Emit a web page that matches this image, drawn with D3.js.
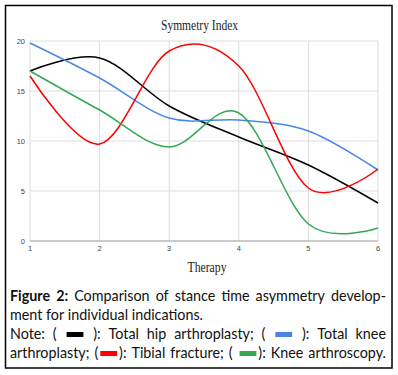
<!DOCTYPE html>
<html>
<head>
<meta charset="utf-8">
<script src="https://cdn.jsdelivr.net/npm/d3@7"></script>
<style>
  body { margin: 0; background: #fff; }
  svg { display: block; }
</style>
</head>
<body>
<div id="chart"></div>
<script>
// therapy sessions and symmetry index per indication
const therapy = [1, 2, 3, 4, 5, 6];
const hipValues = [17.0, 18.3, 13.5, 10.4, 7.6, 3.8];
const kneeValues = [19.8, 16.3, 12.3, 12.1, 11.0, 7.1];
const tibialValues = [16.5, 9.7, 19.0, 17.5, 5.3, 7.2];
const arthroscopyValues = [17.0, 13.1, 9.4, 12.8, 1.7, 1.3];
const yTicks = [0, 5, 10, 15, 20];

const seriesColors = ["#000000", "#4a86e8", "#ff0000", "#34a853"];
const series = [hipValues, kneeValues, tibialValues, arthroscopyValues];

const W = 398, H = 375;
const margin = { top: 41, right: 20, bottom: 134, left: 30 };

const svg = d3.select("#chart").append("svg")
  .attr("width", W)
  .attr("height", H);

// figure frame
svg.append("rect")
  .attr("x", 5.5).attr("y", 5.5)
  .attr("width", 386.5).attr("height", 362.5)
  .attr("fill", "none")
  .attr("stroke", "#000")
  .attr("stroke-width", 1.5);

const x = d3.scaleLinear().domain([1, 6]).range([margin.left, W - margin.right]);
const y = d3.scaleLinear().domain([0, 20]).range([H - margin.bottom, margin.top]);

// grid
svg.append("g")
  .selectAll("line")
  .data(therapy)
  .join("line")
  .attr("x1", d => x(d)).attr("x2", d => x(d))
  .attr("y1", y(20)).attr("y2", y(0))
  .attr("stroke", "#dddddd")
  .attr("stroke-width", 1);

svg.append("g")
  .selectAll("line")
  .data(yTicks)
  .join("line")
  .attr("x1", x(1)).attr("x2", x(6))
  .attr("y1", d => y(d)).attr("y2", d => y(d))
  .attr("stroke", d => d === 0 ? "#b8b8b8" : "#dddddd")
  .attr("stroke-width", d => d === 0 ? 1.5 : 1);

// tick labels
svg.append("g")
  .selectAll("text")
  .data(yTicks)
  .join("text")
  .attr("x", x(1) - 5)
  .attr("y", d => y(d) + 2.5)
  .attr("text-anchor", "end")
  .attr("font-family", "Liberation Sans, Arial, sans-serif")
  .attr("font-size", 7.5)
  .attr("fill", "#444")
  .text(d => d);

svg.append("g")
  .selectAll("text")
  .data(therapy)
  .join("text")
  .attr("x", d => x(d))
  .attr("y", y(0) + 10)
  .attr("text-anchor", "middle")
  .attr("font-family", "Liberation Sans, Arial, sans-serif")
  .attr("font-size", 7.5)
  .attr("fill", "#444")
  .text(d => d);

// lines
const line = d3.line()
  .x((d, i) => x(therapy[i]))
  .y(d => y(d))
  .curve(d3.curveCatmullRom.alpha(0));

svg.append("g")
  .selectAll("path")
  .data(series)
  .join("path")
  .attr("d", d => line(d))
  .attr("fill", "none")
  .attr("stroke", (d, i) => seriesColors[i])
  .attr("stroke-width", 1.5);

// titles
svg.append("text")
  .attr("x", 199.5).attr("y", 30)
  .attr("text-anchor", "middle")
  .attr("font-family", "Liberation Serif, Times New Roman, serif")
  .attr("font-size", 14)
  .attr("textLength", 77)
  .attr("lengthAdjust", "spacingAndGlyphs")
  .attr("fill", "#222")
  .text("Symmetry Index");

svg.append("text")
  .attr("x", 207).attr("y", 272)
  .attr("text-anchor", "middle")
  .attr("font-family", "Liberation Serif, Times New Roman, serif")
  .attr("font-size", 14)
  .attr("textLength", 39)
  .attr("lengthAdjust", "spacingAndGlyphs")
  .attr("fill", "#222")
  .text("Therapy");

// caption, laid out line by line and justified
const capFont = "Lato, sans-serif";
const capSize = 14.5;
const capLeft = 10, capRight = 386;

// each line: groups separated by stretchable spaces; a group is a list of pieces
const captionLines = [
  { y: 301, justify: true, groups: [
    [{ t: "Figure", b: true }], [{ t: "2:", b: true }], [{ t: "Comparison" }], [{ t: "of" }],
    [{ t: "stance" }], [{ t: "time" }], [{ t: "asymmetry" }], [{ t: "develop-" }]] },
  { y: 320, justify: false, groups: [
    [{ t: "ment" }], [{ t: "for" }], [{ t: "individual" }], [{ t: "indications." }]] },
  { y: 339, justify: true, groups: [
    [{ t: "Note:" }], [{ t: "(" }], [{ sw: seriesColors[0] }], [{ t: "):" }], [{ t: "Total" }],
    [{ t: "hip" }], [{ t: "arthroplasty;" }], [{ t: "(" }], [{ sw: seriesColors[1] }], [{ t: "):" }],
    [{ t: "Total" }], [{ t: "knee" }]] },
  { y: 358, justify: true, groups: [
    [{ t: "arthroplasty;" }], [{ t: "(" }, { sw: seriesColors[2] }, { t: "):" }], [{ t: "Tibial" }],
    [{ t: "fracture;" }], [{ t: "(" }], [{ sw: seriesColors[3] }, { t: "):" }], [{ t: "Knee" }],
    [{ t: "arthroscopy." }]] }
];

const cap = svg.append("g");
const measure = cap.append("text")
  .attr("font-family", capFont)
  .attr("font-size", capSize)
  .attr("visibility", "hidden");

function pieceWidth(p) {
  if (p.sw) return 21;
  measure.attr("font-weight", p.b ? "bold" : "normal").text(p.t);
  return measure.node().getComputedTextLength();
}

// scale the caption horizontally so that the unjustified line matches the figure
const spaceW = (() => { measure.attr("font-weight", "normal").text("a a"); const a = measure.node().getComputedTextLength(); measure.text("aa"); return a - measure.node().getComputedTextLength(); })();
const line2 = captionLines[1].groups;
const line2W = d3.sum(line2, g => d3.sum(g, pieceWidth)) + spaceW * (line2.length - 1);
const sx = 193 / line2W;

captionLines.forEach(ln => {
  const gw = ln.groups.map(g => d3.sum(g, pieceWidth));
  const avail = (capRight - capLeft) / sx;
  const gap = ln.justify ? (avail - d3.sum(gw)) / (ln.groups.length - 1) : spaceW;
  const row = cap.append("g")
    .attr("transform", `translate(${capLeft},${ln.y}) scale(${sx},1)`);
  let cx = 0;
  ln.groups.forEach((g, gi) => {
    g.forEach(p => {
      const w = pieceWidth(p);
      if (p.sw) {
        row.append("rect")
          .attr("x", cx + 2).attr("y", -7)
          .attr("width", w - 4).attr("height", 5)
          .attr("fill", p.sw);
      } else {
        row.append("text")
          .attr("x", cx).attr("y", 0)
          .attr("font-family", capFont)
          .attr("font-size", capSize)
          .attr("font-weight", p.b ? "bold" : "normal")
          .attr("fill", "#111")
          .text(p.t);
      }
      cx += w;
    });
    cx += gap;
  });
});
measure.remove();
</script>
</body>
</html>
